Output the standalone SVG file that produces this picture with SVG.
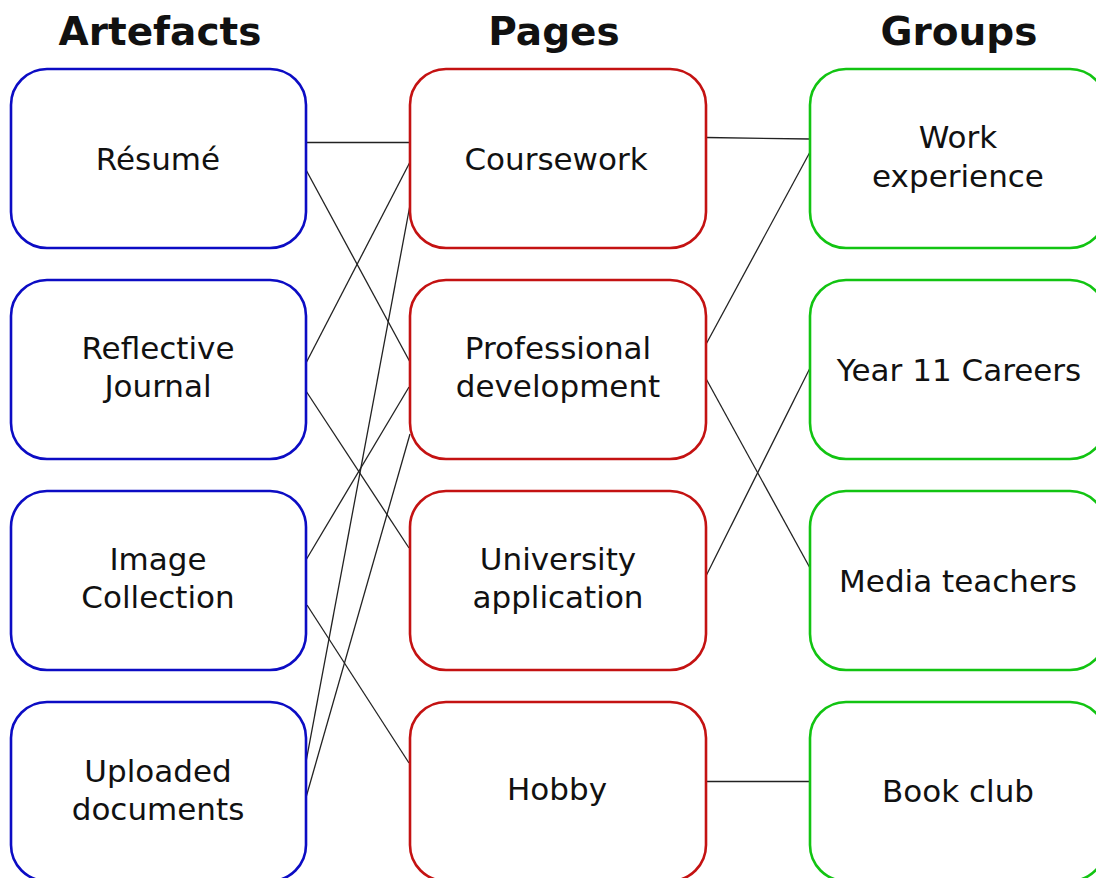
<svg xmlns="http://www.w3.org/2000/svg" width="1096" height="878" viewBox="0 0 1096 878">
<style>
.box{fill:#fff;stroke-width:2.6}
.a{stroke:#0c0cc4}
.p{stroke:#c41212}
.g{stroke:#12c412}
text{font-family:"DejaVu Sans",sans-serif;fill:#111;text-anchor:middle}
.t{font-size:31px}
.h{font-size:39px;font-weight:bold}
#connectors line{stroke:#222;stroke-width:1.3}
</style>
<rect width="1096" height="878" fill="#fff"/>
<g id="headers">
<text class="h" x="160" y="45">Artefacts</text>
<text class="h" x="554" y="45">Pages</text>
<text class="h" x="959" y="45">Groups</text>
</g>
<g id="connectors">
<line x1="306" y1="142.5" x2="410" y2="142.5"/>
<line x1="305" y1="168" x2="410" y2="362"/>
<line x1="305" y1="365" x2="410" y2="162"/>
<line x1="303" y1="778" x2="410" y2="205"/>
<line x1="409" y1="387" x2="306" y2="560"/>
<line x1="303" y1="808" x2="410" y2="434"/>
<line x1="306" y1="391" x2="409" y2="548"/>
<line x1="307" y1="605" x2="409" y2="763"/>
<line x1="706" y1="137.5" x2="810" y2="139"/>
<line x1="810" y1="152" x2="704" y2="348"/>
<line x1="704" y1="375" x2="810" y2="568"/>
<line x1="810" y1="368" x2="703" y2="582"/>
<line x1="706" y1="781.5" x2="810" y2="781.5"/>
</g>
<g id="resume"><rect class="box a" x="11" y="69" width="295" height="179" rx="36"/><text class="t" x="158" y="170">Résumé</text></g>
<g id="journal"><rect class="box a" x="11" y="280" width="295" height="179" rx="36"/><text class="t" x="158" y="359">Reflective</text><text class="t" x="158" y="397">Journal</text></g>
<g id="images"><rect class="box a" x="11" y="491" width="295" height="179" rx="36"/><text class="t" x="158" y="570">Image</text><text class="t" x="158" y="608">Collection</text></g>
<g id="uploaded"><rect class="box a" x="11" y="702" width="295" height="179" rx="36"/><text class="t" x="158" y="782">Uploaded</text><text class="t" x="158" y="820">documents</text></g>
<g id="coursework"><rect class="box p" x="410" y="69" width="296" height="179" rx="36"/><text class="t" x="556" y="170">Coursework</text></g>
<g id="profdev"><rect class="box p" x="410" y="280" width="296" height="179" rx="36"/><text class="t" x="558" y="359">Professional</text><text class="t" x="558" y="397">development</text></g>
<g id="uniapp"><rect class="box p" x="410" y="491" width="296" height="179" rx="36"/><text class="t" x="558" y="570">University</text><text class="t" x="558" y="608">application</text></g>
<g id="hobby"><rect class="box p" x="410" y="702" width="296" height="179" rx="36"/><text class="t" x="557" y="800">Hobby</text></g>
<g id="workexp"><rect class="box g" x="810" y="69" width="296" height="179" rx="36"/><text class="t" x="958" y="148">Work</text><text class="t" x="958" y="187">experience</text></g>
<g id="year11"><rect class="box g" x="810" y="280" width="296" height="179" rx="36"/><text class="t" x="959" y="381">Year 11 Careers</text></g>
<g id="media"><rect class="box g" x="810" y="491" width="296" height="179" rx="36"/><text class="t" x="958" y="592">Media teachers</text></g>
<g id="bookclub"><rect class="box g" x="810" y="702" width="296" height="179" rx="36"/><text class="t" x="958" y="802">Book club</text></g>
</svg>
